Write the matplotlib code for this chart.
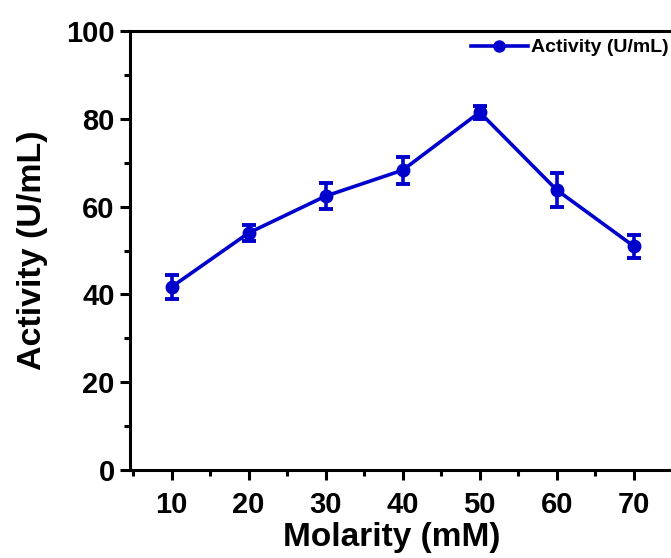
import matplotlib
matplotlib.use("Agg")
from matplotlib import pyplot as plt
from matplotlib.lines import Line2D
from matplotlib.ticker import MultipleLocator

plt.rcParams['font.family'] = ['Liberation Sans', 'DejaVu Sans']
plt.rcParams['font.weight'] = 'bold'

# Activity vs buffer molarity
molarity = [10, 20, 30, 40, 50, 60, 70]
activity = [41.7, 54.0, 62.4, 68.3, 81.5, 63.8, 51.0]
activity_err = [2.7, 1.8, 3.0, 3.1, 1.5, 3.9, 2.6]

fig = plt.figure(figsize=(6.71, 5.58), dpi=100)
ax = fig.add_axes([0.1937, 0.1577, 0.815, 0.7867])

blue = '#0000CC'
ax.errorbar(molarity, activity, yerr=activity_err, color=blue, lw=2.6,
            marker='o', markersize=9, capsize=5, capthick=2.8, elinewidth=2.6)

ax.set_xlim(4.6, 75.6)
ax.set_ylim(0, 100)
ax.xaxis.set_major_locator(MultipleLocator(10))
ax.xaxis.set_minor_locator(MultipleLocator(5))
ax.yaxis.set_major_locator(MultipleLocator(20))
ax.yaxis.set_minor_locator(MultipleLocator(10))
ax.tick_params(which='major', direction='out', length=7, width=2.2, labelsize=21)
ax.tick_params(axis='y', which='major', pad=4)
ax.tick_params(axis='x', which='major', pad=8)
ax.tick_params(which='minor', direction='out', length=4, width=2.2)
for s in ax.spines.values():
    s.set_linewidth(2.2)

ax.set_xlabel('Molarity (mM)', fontsize=24, fontweight='bold')
ax.xaxis.set_label_coords(0.479, -0.118)
ax.set_ylabel('Activity (U/mL)', fontsize=24.5, fontweight='bold', labelpad=13)

# legend entry shows just the line with its marker
handle = Line2D([], [], color=blue, lw=2.6, marker='o', markersize=8)
leg = ax.legend([handle], ['Activity (U/mL)'], loc='upper right', frameon=False,
                fontsize=14, handlelength=2.9, handletextpad=0.2,
                borderaxespad=0.0, bbox_to_anchor=(1.0, 1.0))
for t in leg.get_texts():
    t.set_fontweight('bold')

fig.savefig('out.png', dpi=100)
